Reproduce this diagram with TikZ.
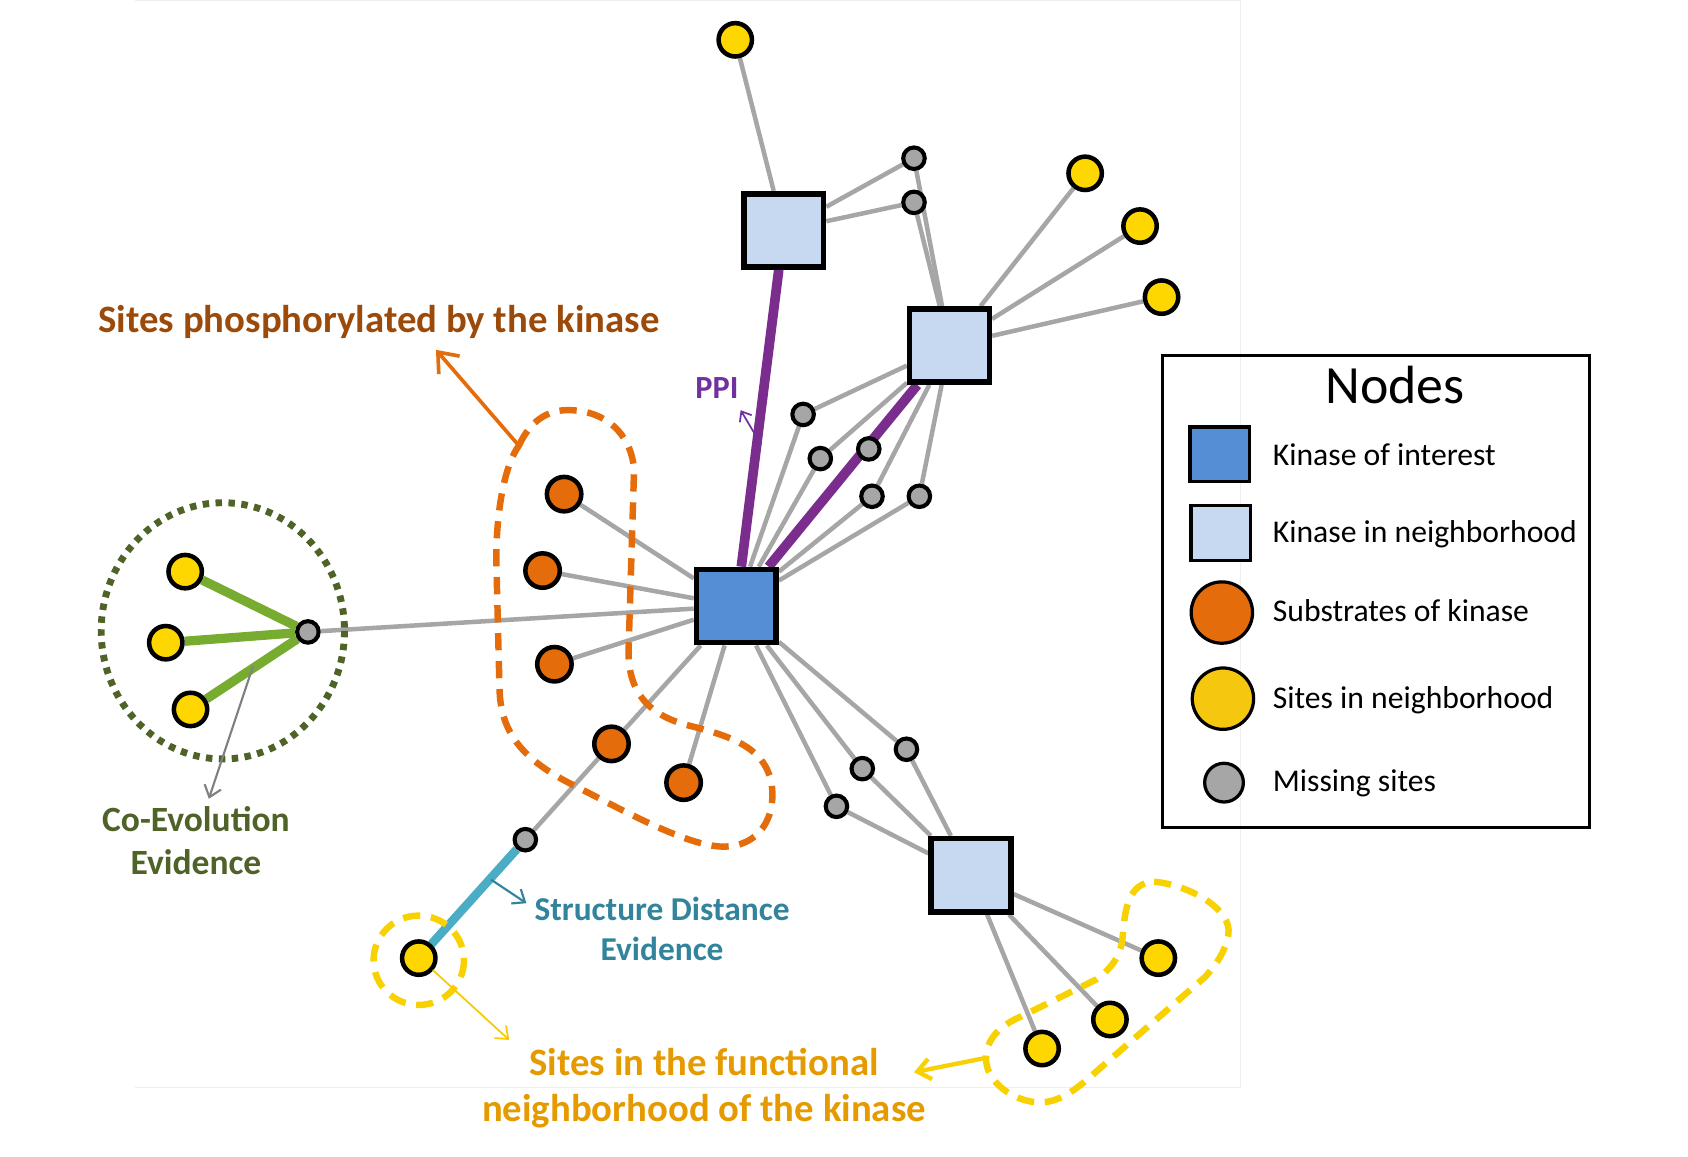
\documentclass[tikz,border=0pt]{standalone}
\usepackage{fontspec}
\setmainfont{Carlito}
\usetikzlibrary{arrows.meta}
\pgfdeclarelayer{background}
\pgfsetlayers{background,main}
\definecolor{edgegray}{HTML}{A6A6A6}
\definecolor{ppi}{HTML}{7B2D8E}
\definecolor{ppitext}{HTML}{7030A0}
\definecolor{coevo}{HTML}{77AC30}
\definecolor{olive}{HTML}{4F6228}
\definecolor{sdline}{HTML}{4BACC6}
\definecolor{sdtext}{HTML}{31849B}
\definecolor{orangefill}{HTML}{E46C0A}
\definecolor{browntext}{HTML}{9C4A0A}
\definecolor{yellowfill}{HTML}{FFD700}
\definecolor{legyellow}{HTML}{F5C80F}
\definecolor{yellowdash}{HTML}{F8D100}
\definecolor{yellowtext}{HTML}{E59A00}
\definecolor{kinblue}{HTML}{558ED5}
\definecolor{kinlight}{HTML}{C6D9F1}
\definecolor{missgray}{HTML}{A6A6A6}
\definecolor{framegray}{HTML}{EEEEEE}
\begin{document}
\begin{tikzpicture}[x=0.5pt,y=-0.5pt,
  kin/.style={draw=black,line width=2.6pt,fill=kinblue,minimum width=37pt,minimum height=34pt,inner sep=0pt},
  nkin/.style={kin,fill=kinlight},
  ysite/.style={circle,draw=black,line width=2.1pt,fill=yellowfill,minimum size=15.5pt,inner sep=0pt},
  osite/.style={circle,draw=black,line width=2.1pt,fill=orangefill,minimum size=16pt,inner sep=0pt},
  gsite/.style={circle,draw=black,line width=1.9pt,fill=missgray,minimum size=10pt,inner sep=0pt},
  edge/.style={draw=edgegray,line width=2.1pt},
  ppiedge/.style={draw=ppi,line width=4.5pt},
  coedge/.style={draw=coevo,line width=4.3pt},
  sdedge/.style={draw=sdline,line width=4pt},
  groupdash/.style={line width=3pt,dash pattern=on 8pt off 5pt},
  lbl/.style 2 args={font=\bfseries\fontsize{#1}{#2}\selectfont,align=center,inner sep=0pt},
  legtext/.style={anchor=west,font=\fontsize{14.7}{17}\selectfont,inner sep=0pt},
  barb/.style={-{Straight Barb[length=#1,width=1.6*#1]}},
]
\useasboundingbox (0,0) rectangle (1568,1074);
% faint slide frame
\draw[framegray,line width=0.6pt] (125,0.6) -- (1152,0.6) -- (1152,1010) -- (125,1010);

% ---- nodes ----
\node[kin]  (K)  at (684,563) {};
\node[nkin] (N1) at (728,214) {};
\node[nkin] (N2) at (882,321) {};
\node[nkin] (N3) at (902,813) {};

\node[ysite] (Yt)  at (683,37) {};
\node[ysite] (Yr1) at (1008,161) {};
\node[ysite] (Yr2) at (1059,210) {};
\node[ysite] (Yr3) at (1079,276) {};
\node[ysite] (Yc1) at (172,531) {};
\node[ysite] (Yc2) at (154,597) {};
\node[ysite] (Yc3) at (177,659) {};
\node[ysite] (Ysd) at (389,890) {};
\node[ysite] (Yb1) at (1076,890) {};
\node[ysite] (Yb2) at (1031,947) {};
\node[ysite] (Yb3) at (968,974) {};

\node[osite] (O1) at (524,459) {};
\node[osite] (O2) at (504,530) {};
\node[osite] (O3) at (515,617) {};
\node[osite] (O4) at (568,691) {};
\node[osite] (O5) at (635,727) {};

\node[gsite] (Ga) at (849,147) {};
\node[gsite] (Gb) at (849,188) {};
\node[gsite] (G1) at (746,385) {};
\node[gsite] (G2) at (762,426) {};
\node[gsite] (G3) at (807,417) {};
\node[gsite] (G4) at (810,461) {};
\node[gsite] (G5) at (854,461) {};
\node[gsite] (Gce) at (286,587) {};
\node[gsite] (Gsd) at (488,780) {};
\node[gsite] (G6) at (842,696) {};
\node[gsite] (G7) at (801,714) {};
\node[gsite] (G8) at (777,749) {};

% ---- edges ----
\begin{pgfonlayer}{background}
\foreach \a/\b in {Yt/N1,N1/Ga,N1/Gb,Ga/N2,Gb/N2,N2/Yr1,N2/Yr2,N2/Yr3,
  N2/G1,N2/G2,N2/G4,N2/G5,K/G1,K/G2,K/G4,K/G5,K/O1,K/O2,K/O3,K/O4,O4/Gsd,K/O5,
  K/Gce,K/G6,K/G7,K/G8,G6/N3,G7/N3,G8/N3,N3/Yb1,N3/Yb2,N3/Yb3}
  \draw[edge] (\a) -- (\b);
\draw[ppiedge] (K) -- (N1);
\draw[ppiedge] (K) -- (N2);
\foreach \y in {Yc1,Yc2,Yc3} \draw[coedge] (Gce) -- (\y);
\draw[sdedge] (Gsd) -- (Ysd);
\end{pgfonlayer}

% ---- group outlines ----
\draw[orangefill,groupdash]
  (482,414) .. controls (492,392) and (508,380) .. (530,381)
  .. controls (562,382) and (586,402) .. (589,436)
  -- (584,600) .. controls (582,640) and (600,664) .. (640,674)
  .. controls (680,684) and (712,695) .. (717,730)
  .. controls (721,765) and (700,790) .. (665,786)
  .. controls (630,782) and (570,748) .. (530,728)
  .. controls (485,705) and (465,680) .. (464,640)
  -- (461,520) .. controls (461,470) and (470,430) .. (482,414) -- cycle;
\draw[yellowdash,groupdash]
  (1072,819) .. controls (1105,822) and (1145,845) .. (1141,868)
  .. controls (1138,885) and (1130,895) .. (1120,907)
  -- (1013,1000) .. controls (995,1016) and (980,1025) .. (963,1024)
  .. controls (940,1022) and (917,1005) .. (916,985)
  .. controls (915,965) and (930,952) .. (949,944)
  -- (1018,910) .. controls (1035,898) and (1042,885) .. (1043,868)
  .. controls (1045,845) and (1048,820) .. (1072,819) -- cycle;
\draw[yellowdash,groupdash] (389,892) ellipse [x radius=42, y radius=41.5];
\draw[olive,line width=3.2pt,dash pattern=on 3pt off 3pt] (207,586) ellipse [x radius=113, y radius=119];

% ---- annotation arrows ----
\coordinate (phA) at (482,414);  \coordinate (phB) at (405,325);
\coordinate (ppA) at (707,413);  \coordinate (ppB) at (688,381);
\coordinate (ceA) at (235,619);  \coordinate (ceB) at (194,742);
\coordinate (sdA) at (456,817);  \coordinate (sdB) at (489,839);
\coordinate (fnA) at (402,901);  \coordinate (fnB) at (473,966);
\coordinate (fbA) at (914,983);  \coordinate (fbB) at (849,996);
\draw[orangefill,line width=1.7pt,barb=8pt] (phA) -- (phB);
\draw[ppitext,line width=0.8pt,barb=4pt] (ppA) -- (ppB);
\draw[gray,line width=1pt,barb=5pt] (ceA) -- (ceB);
\draw[sdtext,line width=1pt,barb=5pt] (sdA) -- (sdB);
\draw[yellowdash!90!orange,line width=0.8pt,barb=5pt] (fnA) -- (fnB);
\draw[yellowdash,line width=2pt,barb=6pt] (fbA) -- (fbB);

% ---- labels ----
\node[lbl={18}{21.5},text=browntext] (tph) at (352,299) {Sites phosphorylated by the kinase};
\node[lbl={15}{18},text=ppitext] (tppi) at (666,360) {PPI};
\node[lbl={16.5}{20},text=olive] (tce) at (182,781) {Co-Evolution\\Evidence};
\node[lbl={15.5}{18.5},text=sdtext] (tsd) at (615,863) {Structure Distance\\Evidence};
\node[lbl={18}{21.5},text=yellowtext] (tfn) at (654,1011) {Sites in the functional\\neighborhood of the kinase};

% ---- legend ----
\node[draw=black,line width=1.5pt,minimum width=198.5pt,minimum height=219pt,inner sep=0pt] (L) at (1278,549.5) {};
\node[font=\fontsize{25}{30}\selectfont,inner sep=0pt] (Lt) at (1296,358) {Nodes};
\node[kin,line width=1.6pt,minimum width=27.5pt,minimum height=25.5pt] (L1) at (1133,422) {};
\node[nkin,line width=1.6pt,minimum width=27.5pt,minimum height=25.5pt] (L2) at (1134,495) {};
\node[osite,line width=1.5pt,minimum size=28.5pt] (L3) at (1135,569) {};
\node[ysite,fill=legyellow,line width=1.5pt,minimum size=28.5pt] (L4) at (1136,649) {};
\node[gsite,line width=1.5pt,minimum size=18pt] (L5) at (1137,727) {};
\node[legtext] (T1) at (1182,422) {Kinase of interest};
\node[legtext] (T2) at (1182,496) {Kinase in neighborhood};
\node[legtext] (T3) at (1182,567) {Substrates of kinase};
\node[legtext] (T4) at (1182,650) {Sites in neighborhood};
\node[legtext] (T5) at (1182,728) {Missing sites};
\end{tikzpicture}
\end{document}
